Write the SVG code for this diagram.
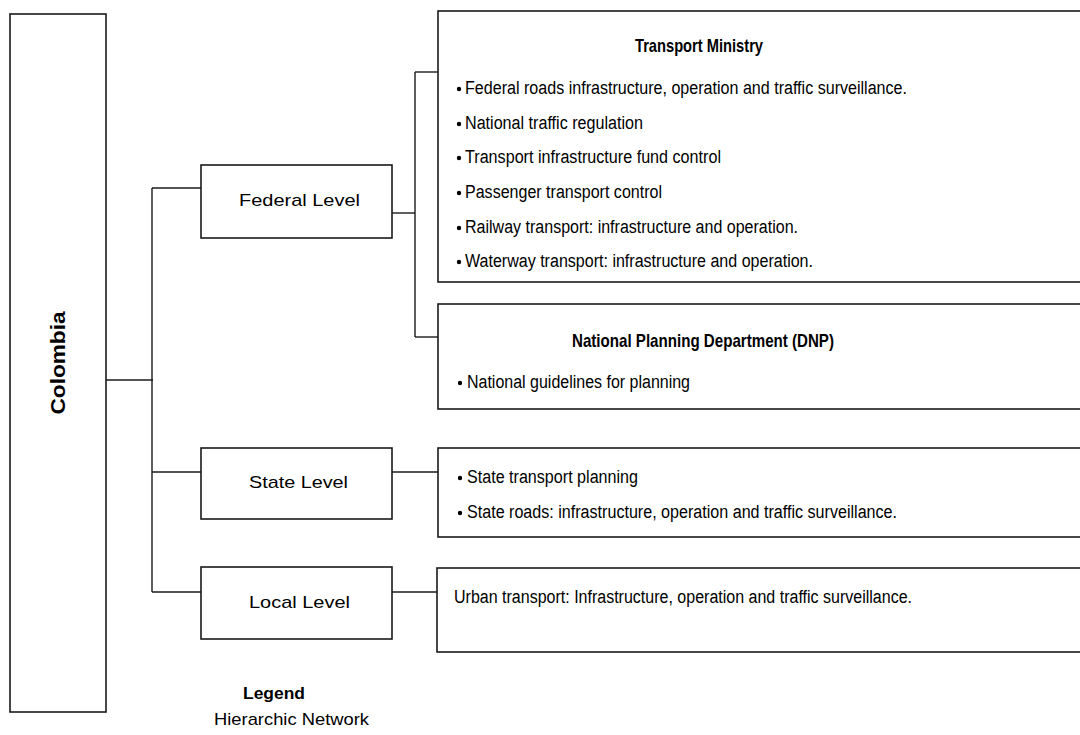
<svg xmlns="http://www.w3.org/2000/svg" width="1080" height="735" viewBox="0 0 1080 735">
  <style>
    .box { fill: #ffffff; stroke: #1a1a1a; stroke-width: 1.6; }
    .wire { fill: none; stroke: #1a1a1a; stroke-width: 1.4; }
    text { font-family: "Liberation Sans", Arial, sans-serif; fill: #000000; }
    .lvl { font-size: 17px; }
    .item { font-size: 18px; }
    .title { font-size: 18.5px; font-weight: bold; }
    .dot { fill: #000000; }
  </style>
  <rect width="1080" height="735" fill="#ffffff"/>

  <!-- connectors -->
  <g id="connectors">
    <path class="wire" d="M106 380 H153"/>
    <path class="wire" d="M152 188 V592"/>
    <path class="wire" d="M152 188 H201"/>
    <path class="wire" d="M152 472 H201"/>
    <path class="wire" d="M152 592 H201"/>
    <path class="wire" d="M390 213 H415"/>
    <path class="wire" d="M415 72 V337"/>
    <path class="wire" d="M415 72 H438"/>
    <path class="wire" d="M415 337 H438"/>
    <path class="wire" d="M392 472 H438"/>
    <path class="wire" d="M390 592 H437"/>
  </g>

  <!-- root -->
  <g id="colombia">
    <rect class="box" x="10" y="14" width="96" height="698"/>
    <text transform="translate(65 363) rotate(-90)" text-anchor="middle" font-size="19.5" font-weight="bold" textLength="103" lengthAdjust="spacingAndGlyphs">Colombia</text>
  </g>

  <!-- government levels -->
  <g id="federal-level">
    <rect class="box" x="201" y="165" width="191" height="73"/>
    <text class="lvl" x="239" y="206" textLength="121" lengthAdjust="spacingAndGlyphs">Federal Level</text>
  </g>
  <g id="state-level">
    <rect class="box" x="201" y="448" width="191" height="71"/>
    <text class="lvl" x="249" y="488" textLength="99" lengthAdjust="spacingAndGlyphs">State Level</text>
  </g>
  <g id="local-level">
    <rect class="box" x="201" y="567" width="191" height="72"/>
    <text class="lvl" x="249" y="608" textLength="101" lengthAdjust="spacingAndGlyphs">Local Level</text>
  </g>

  <!-- responsibilities -->
  <g id="transport-ministry">
    <rect class="box" x="438" y="11" width="660" height="271"/>
    <text class="title" x="635" y="52" textLength="128" lengthAdjust="spacingAndGlyphs">Transport Ministry</text>
    <circle class="dot" cx="459" cy="89" r="2.2"/>
    <text class="item" x="465" y="94" textLength="442" lengthAdjust="spacingAndGlyphs">Federal roads infrastructure, operation and traffic surveillance.</text>
    <circle class="dot" cx="459" cy="124" r="2.2"/>
    <text class="item" x="465" y="129" textLength="178" lengthAdjust="spacingAndGlyphs">National traffic regulation</text>
    <circle class="dot" cx="459" cy="158" r="2.2"/>
    <text class="item" x="465" y="163" textLength="256" lengthAdjust="spacingAndGlyphs">Transport infrastructure fund control</text>
    <circle class="dot" cx="459" cy="193" r="2.2"/>
    <text class="item" x="465" y="198" textLength="197" lengthAdjust="spacingAndGlyphs">Passenger transport control</text>
    <circle class="dot" cx="459" cy="228" r="2.2"/>
    <text class="item" x="465" y="233" textLength="333" lengthAdjust="spacingAndGlyphs">Railway transport: infrastructure and operation.</text>
    <circle class="dot" cx="459" cy="262" r="2.2"/>
    <text class="item" x="465" y="267" textLength="348" lengthAdjust="spacingAndGlyphs">Waterway transport: infrastructure and operation.</text>
  </g>

  <g id="dnp">
    <rect class="box" x="438" y="304" width="660" height="105"/>
    <text class="title" x="572" y="347" textLength="262" lengthAdjust="spacingAndGlyphs">National Planning Department (DNP)</text>
    <circle class="dot" cx="460" cy="383" r="2.2"/>
    <text class="item" x="467" y="388" textLength="223" lengthAdjust="spacingAndGlyphs">National guidelines for planning</text>
  </g>

  <g id="state-duties">
    <rect class="box" x="438" y="448" width="660" height="89"/>
    <circle class="dot" cx="460" cy="478" r="2.2"/>
    <text class="item" x="467" y="483" textLength="171" lengthAdjust="spacingAndGlyphs">State transport planning</text>
    <circle class="dot" cx="460" cy="513" r="2.2"/>
    <text class="item" x="467" y="518" textLength="430" lengthAdjust="spacingAndGlyphs">State roads: infrastructure, operation and traffic surveillance.</text>
  </g>

  <g id="local-duties">
    <rect class="box" x="437" y="568" width="660" height="84"/>
    <text class="item" x="454" y="603" textLength="458" lengthAdjust="spacingAndGlyphs">Urban transport: Infrastructure, operation and traffic surveillance.</text>
  </g>

  <!-- legend -->
  <g id="legend">
    <text x="243" y="699" font-size="17" font-weight="bold" textLength="62" lengthAdjust="spacingAndGlyphs">Legend</text>
    <text x="214" y="725" font-size="17" textLength="155" lengthAdjust="spacingAndGlyphs">Hierarchic Network</text>
  </g>
</svg>
